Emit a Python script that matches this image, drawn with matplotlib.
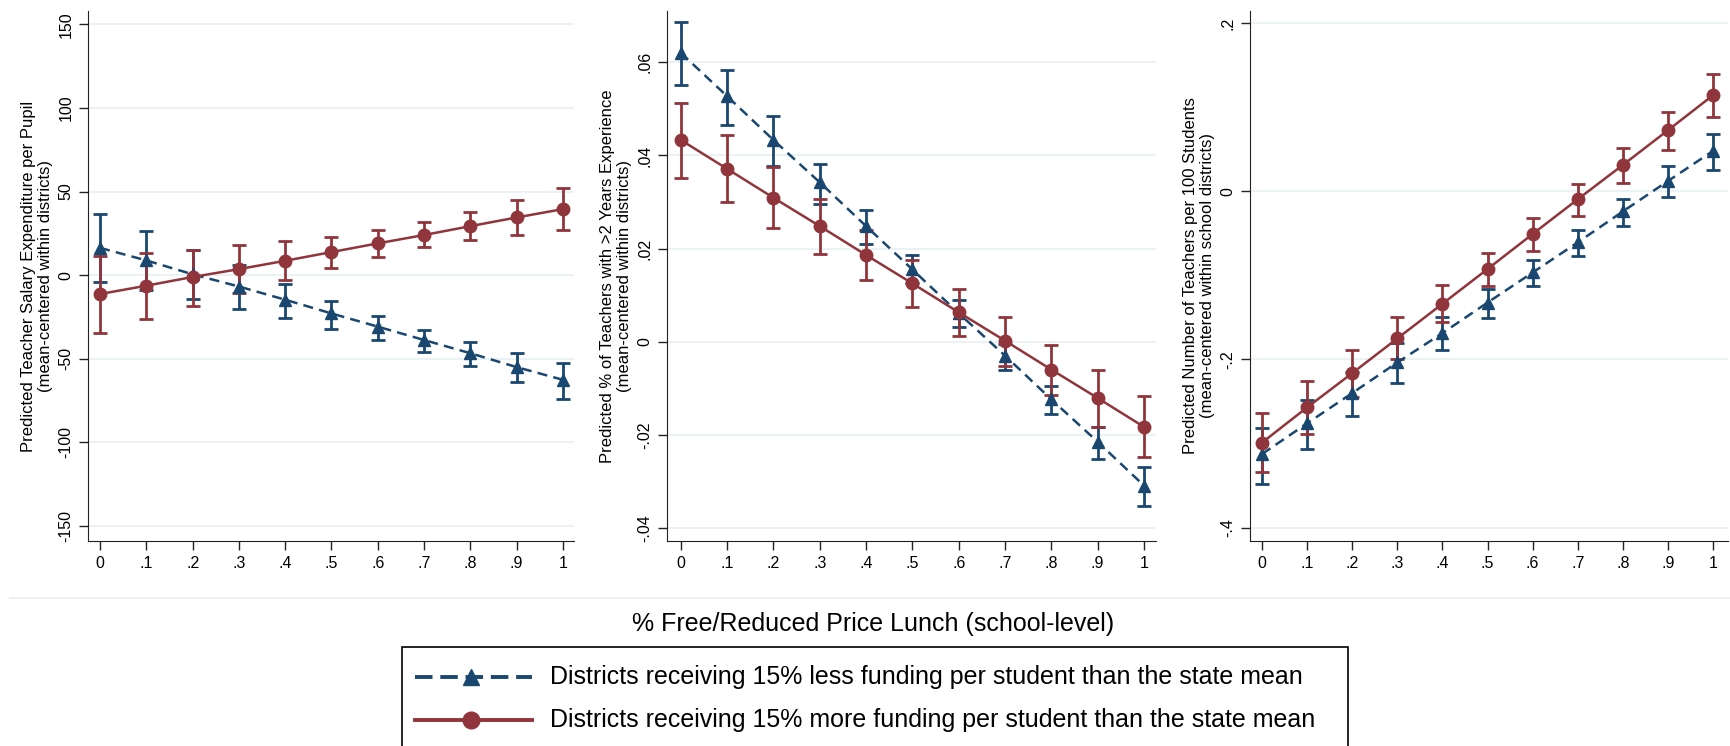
import matplotlib.pyplot as plt
import numpy as np
from matplotlib.lines import Line2D
from matplotlib.patches import Rectangle

plt.rcParams['font.family'] = ['Liberation Sans', 'DejaVu Sans']

# x values: share of free/reduced price lunch
frl = [0, .1, .2, .3, .4, .5, .6, .7, .8, .9, 1]

# panel 1 - teacher salary expenditure per pupil
sal_less = [16.3, 8.8, 0.5, -6.8, -14.7, -22.9, -30.8, -38.8, -46.7, -55.0, -62.6]
sal_less_lo = [-4.3, -9.0, -14.0, -20.4, -25.9, -32.0, -38.5, -46.0, -54.6, -64.0, -74.0]
sal_less_hi = [36.7, 26.3, 15.0, 6.0, -5.2, -15.4, -24.5, -32.6, -40.0, -46.7, -52.6]
sal_more = [-11.3, -6.3, -1.1, 3.6, 8.6, 13.8, 19.0, 24.0, 29.3, 34.5, 39.5]
sal_more_lo = [-34.5, -26.3, -18.6, -10.9, -2.9, 4.3, 10.9, 16.6, 20.9, 24.3, 26.8]
sal_more_hi = [11.3, 13.4, 15.2, 18.1, 20.4, 23.1, 26.8, 31.7, 37.6, 44.7, 51.9]

# panel 2 - % teachers with >2 years experience
exp_less = [.0620, .0527, .0433, .0342, .0248, .0155, .0061, -.0030, -.0124, -.0215, -.0309]
exp_less_lo = [.0550, .0465, .0378, .0295, .0209, .0125, .0031, -.0060, -.0156, -.0252, -.0352]
exp_less_hi = [.0686, .0583, .0484, .0382, .0283, .0185, .0089, -.0006, -.0096, -.0184, -.0270]
exp_more = [.0433, .0371, .0309, .0248, .0186, .0125, .0063, .0002, -.0060, -.0121, -.0183]
exp_more_lo = [.0352, .0299, .0245, .0189, .0133, .0075, .0012, -.0052, -.0115, -.0183, -.0248]
exp_more_hi = [.0512, .0443, .0376, .0307, .0239, .0176, .0113, .0053, -.0007, -.0061, -.0117]

# panel 3 - teachers per 100 students
tch_less = [-.3125, -.276, -.240, -.2036, -.1687, -.1324, -.0966, -.0608, -.024, .0122, .048]
tch_less_lo = [-.348, -.307, -.267, -.2277, -.1887, -.1506, -.113, -.0766, -.0417, -.0073, .0259]
tch_less_hi = [-.2816, -.248, -.215, -.180, -.150, -.1166, -.082, -.0458, -.0086, .0295, .0685]
tch_more = [-.2989, -.257, -.2163, -.175, -.1338, -.0925, -.0508, -.0095, .0313, .0726, .1143]
tch_more_lo = [-.334, -.289, -.2444, -.199, -.156, -.113, -.0707, -.0295, .0095, .0494, .088]
tch_more_hi = [-.264, -.226, -.189, -.150, -.112, -.073, -.032, .0086, .052, .0948, .1397]

x_ticks = [0, .1, .2, .3, .4, .5, .6, .7, .8, .9, 1]
x_ticklabels = ['0', '.1', '.2', '.3', '.4', '.5', '.6', '.7', '.8', '.9', '1']

navy = '#1a476f'
maroon = '#90353b'
gridc = '#eaf2f3'
dash = (0, (4, 2.5))

fig = plt.figure(figsize=(17.3, 7.46), dpi=100)

panels = [
    dict(pos=[0.0509, 0.2748, 0.2809, 0.7105], xlim=(-0.026, 1.024), ylim=(-159, 158),
         yt=[150, 100, 50, 0, -50, -100, -150], ytl=['150', '100', '50', '0', '-50', '-100', '-150'],
         ylab='Predicted Teacher Salary Expenditure per Pupil\n(mean-centered within districts)',
         less=(sal_less, sal_less_lo, sal_less_hi), more=(sal_more, sal_more_lo, sal_more_hi)),
    dict(pos=[0.3855, 0.2748, 0.2827, 0.7105], xlim=(-0.030, 1.026), ylim=(-0.0428, 0.071),
         yt=[.06, .04, .02, 0, -.02, -.04], ytl=['.06', '.04', '.02', '0', '-.02', '-.04'],
         ylab='Predicted % of Teachers with >2 Years Experience\n(mean-centered within districts)',
         less=(exp_less, exp_less_lo, exp_less_hi), more=(exp_more, exp_more_lo, exp_more_hi)),
    dict(pos=[0.7225, 0.2748, 0.2763, 0.7105], xlim=(-0.027, 1.033), ylim=(-0.416, 0.2145),
         yt=[.2, 0, -.2, -.4], ytl=['.2', '0', '-.2', '-.4'],
         ylab='Predicted Number of Teachers per 100 Students\n(mean-centered within school districts)',
         less=(tch_less, tch_less_lo, tch_less_hi), more=(tch_more, tch_more_lo, tch_more_hi)),
]

for p in panels:
    ax = fig.add_axes(p['pos'])
    for key, col, mk, ls in [('less', navy, '^', dash), ('more', maroon, 'o', '-')]:
        y, lo, hi = [np.array(v) for v in p[key]]
        ax.errorbar(frl, y, yerr=[y - lo, hi - y], fmt='none', ecolor=col,
                    elinewidth=2, capsize=5, capthick=2, zorder=3)
        ax.plot(frl, y, color=col, lw=1.8, ls=ls, marker=mk, ms=9, zorder=4)
    ax.set_xlim(*p['xlim'])
    ax.set_ylim(*p['ylim'])
    ax.set_xticks(x_ticks)
    ax.set_xticklabels(x_ticklabels, fontsize=11.5)
    ax.set_yticks(p['yt'])
    ax.set_yticklabels(p['ytl'], rotation=90, va='center', fontsize=11.5)
    ax.yaxis.grid(True, color=gridc, lw=1.5)
    ax.set_axisbelow(True)
    ax.spines['top'].set_visible(False)
    ax.spines['right'].set_visible(False)
    ax.spines['left'].set_color('#222222')
    ax.spines['bottom'].set_color('#222222')
    ax.tick_params(direction='out', length=6.5, width=1, color='#222222', pad=4)
    ax.set_ylabel(p['ylab'], fontsize=12, labelpad=4, linespacing=1.15)

# separator line and shared x label
fig.add_artist(Line2D([0.006, 1.0], [0.1984, 0.1984], color=gridc, lw=1.5))
fig.text(0.5046, 0.163, '% Free/Reduced Price Lunch (school-level)', ha='center', va='center', fontsize=18)

# legend box (cut at bottom like the reference)
fig.add_artist(Rectangle((0.2324, -0.02), 0.5468, 0.1527, fill=False, ec='black', lw=1.2))
for yy, col, mk, ls, txt in [
        (0.0925, navy, '^', (0, (4.5, 2)), 'Districts receiving 15% less funding per student than the state mean'),
        (0.0349, maroon, 'o', '-', 'Districts receiving 15% more funding per student than the state mean')]:
    fig.add_artist(Line2D([0.2399, 0.3075], [yy, yy], color=col, lw=2.8, ls=ls))
    fig.add_artist(Line2D([0.2725], [yy], color=col, marker=mk, ms=12))
    fig.text(0.3179, yy, txt, ha='left', va='center', fontsize=18)

fig.savefig('out.png', dpi=100)
